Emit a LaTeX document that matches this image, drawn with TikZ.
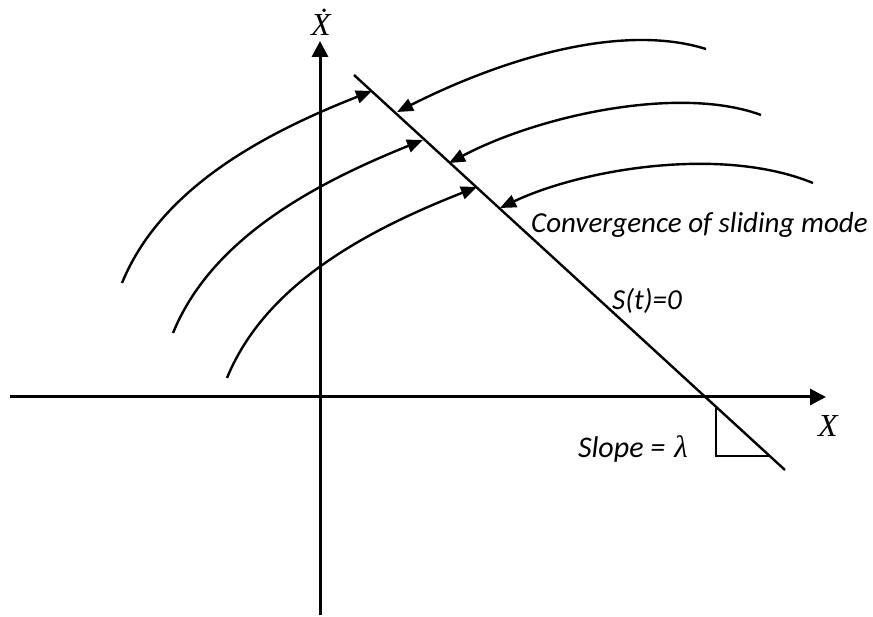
\documentclass[tikz,border=0pt]{standalone}
\usepackage{fontspec}
\setmainfont{Carlito}
\newfontfamily\symfont{Liberation Serif}
\usetikzlibrary{arrows.meta}
\tikzset{
  phasefig/.style={
    x=1pt, y=-1pt,
    every node/.append style={inner sep=0pt},
  },
  axisline/.style={line width=3pt, -{Triangle[length=16pt,width=16pt]}},
  slideline/.style={line width=2.4pt},
  traj/.style={line width=2.4pt, -{Triangle[length=16pt,width=13pt]}},
  note/.style={font=\fontsize{29}{34}\selectfont\itshape},
  axislabel/.style={font=\fontsize{32}{36}\selectfont\symfont\itshape},
}

\begin{document}
\begin{tikzpicture}[phasefig]
  \useasboundingbox (0,0) rectangle (873,617);
  % Achsen
  \coordinate (XLeft) at (10,397);
  \coordinate (XRight) at (826,397);
  \coordinate (YBottom) at (320,615);
  \coordinate (YTop) at (320,41);
  \draw[axisline] (XLeft) -- (XRight);
  \draw[axisline] (YBottom) -- (YTop);
  \node[axislabel, anchor=base] (XLabel) at (828,436) {X};
  \node[axislabel, anchor=base] (XDotLabel) at (321,36) {\.{X}};
  % Gleitgerade und Steigungsdreieck
  \coordinate (SlideTop) at (354,75);
  \coordinate (SlideBottom) at (785,470);
  \draw[slideline] (SlideTop) -- (SlideBottom);
  \coordinate (TriTop) at (716,407);
  \coordinate (TriCorner) at (716,456);
  \coordinate (TriRight) at (770,456);
  \draw[slideline] (TriTop) -- (TriCorner) -- (TriRight);
  % Trajektorien von links
  \coordinate (LeftStartA) at (122,283);
  \coordinate (LeftStartB) at (173,333);
  \coordinate (LeftStartC) at (227,378);
  \coordinate (HitLeftA) at (372,91);
  \coordinate (HitLeftB) at (423,140);
  \coordinate (HitLeftC) at (477,187);
  \draw[traj] (LeftStartA) .. controls (160,190) and (260,135) .. (HitLeftA);
  \draw[traj] (LeftStartB) .. controls (211,240) and (311,185) .. (HitLeftB);
  \draw[traj] (LeftStartC) .. controls (265,285) and (365,231) .. (HitLeftC);
  % Trajektorien von rechts
  \coordinate (RightStartA) at (706,49);
  \coordinate (RightStartB) at (761,115);
  \coordinate (RightStartC) at (813,183);
  \coordinate (HitRightA) at (397,112);
  \coordinate (HitRightB) at (449,163);
  \coordinate (HitRightC) at (500,208);
  \draw[traj] (RightStartA) .. controls (620,22) and (500,60) .. (HitRightA);
  \draw[traj] (RightStartB) .. controls (680,85) and (540,115) .. (HitRightB);
  \draw[traj] (RightStartC) .. controls (720,145) and (580,170) .. (HitRightC);
  % Beschriftungen
  \node[note, anchor=base west] (ConvLabel) at (531,233) {Convergence of sliding mode};
  \node[note, anchor=base west] (SurfLabel) at (612,310) {S(t)=0};
  \node[note, anchor=base east] (SlopeLabel) at (688,457)
    {\fontsize{30}{34}\selectfont Slope =\hspace{9pt}{\symfont\fontsize{31}{34}\selectfont\itshape λ}};
\end{tikzpicture}
\end{document}
